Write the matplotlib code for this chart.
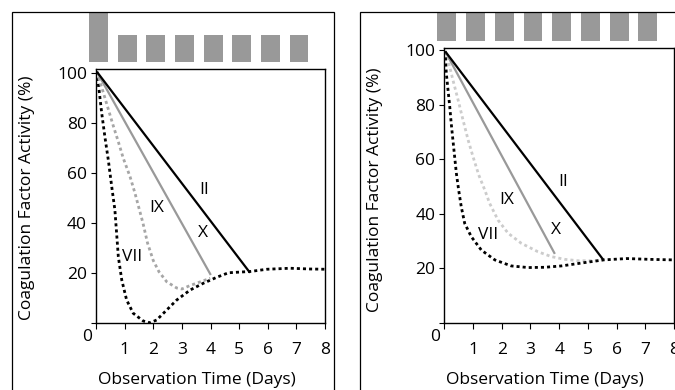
import matplotlib
matplotlib.use("Agg")
import matplotlib.pyplot as plt
from matplotlib.patches import Rectangle

plt.rcParams['font.family'] = ['Open Sans', 'DejaVu Sans']

# dose bars (relative dose amount per day)
dose_days = [0, 1, 2, 3, 4, 5, 6, 7]
dose_left = [1.8, 1, 1, 1, 1, 1, 1, 1]
dose_right = [1, 1, 1, 1, 1, 1, 1, 1]

# left panel: loading dose
L_II_x = [0.03, 5.38]
L_II_y = [100.5, 20.1]
L_X_x = [0.03, 4.01]
L_X_y = [100.5, 19.2]
L_IX_x = [0.03, 0.26, 0.43, 0.6, 0.78, 0.95, 1.19, 1.36, 1.5, 1.64, 1.8, 2.0, 2.2, 2.47, 2.82, 3.0, 3.29, 3.75, 3.99]
L_IX_y = [100.5, 92.0, 85.5, 79.0, 72.5, 66.0, 58.5, 52.0, 46.0, 40.0, 32.0, 25.0, 20.5, 16.5, 14.0, 13.6, 15.0, 16.9, 17.9]
L_VII_x = [0.03, 0.12, 0.2, 0.31, 0.43, 0.55, 0.66, 0.72, 0.78, 0.9, 1.07, 1.3, 1.65, 1.89, 2.12, 2.47, 2.82,
           3.29, 3.75, 4.22, 4.63, 5.38, 5.97, 6.78, 7.48, 8.0]
L_VII_y = [100.5, 91.9, 83.9, 74.5, 65.2, 54.5, 45.2, 35.9, 26.5, 17.2, 9.2, 3.9, 0.8, 0.1, 1.2, 5.2, 9.2,
           13.2, 15.9, 18.3, 20.1, 20.6, 21.5, 21.9, 21.6, 21.5]

# right panel: no loading dose
R_II_x = [0.03, 5.54]
R_II_y = [99.5, 23.1]
R_X_x = [0.03, 3.85]
R_X_y = [99.5, 25.3]
R_IX_x = [0.03, 0.13, 0.3, 0.48, 0.65, 0.83, 1.0, 1.2, 1.41, 1.58, 1.87, 2.22, 2.68, 3.26, 3.73, 4.2, 4.66, 5.31, 5.54]
R_IX_y = [99.5, 96.3, 89.0, 81.7, 74.4, 67.0, 60.9, 54.2, 48.7, 43.8, 37.7, 32.9, 29.2, 26.1, 24.3, 23.3, 22.8, 22.8, 23.1]
R_VII_x = [0.03, 0.07, 0.13, 0.19, 0.24, 0.3, 0.36, 0.42, 0.5, 0.59, 0.71, 0.94, 1.29, 1.76, 2.33, 2.92, 3.5,
           4.08, 4.54, 5.54, 6.36, 7.17, 8.0]
R_VII_y = [99.5, 91.5, 85.3, 79.2, 73.2, 67.0, 60.9, 54.8, 48.7, 42.6, 36.5, 31.6, 26.7, 23.1, 20.9, 20.3, 20.4,
           20.9, 21.6, 23.1, 23.6, 23.3, 23.1]

W, H = 675, 390
FS = 12.5
fig = plt.figure(figsize=(W / 100, H / 100), dpi=100)


def fx(px):
    return px / W


def fy(py):
    return 1 - py / H


def panel(x0, x1, ytop, ymax, bar_top, bar_bot, bar_max, doses, curves, labels, label_xy, zero_xy, ylab_x, ylab_y):
    ax = fig.add_axes([fx(x0), fy(323), fx(x1) - fx(x0), fy(ytop) - fy(323)])
    ax.set_xlim(0, 8)
    ax.set_ylim(0, ymax)
    for s in ax.spines.values():
        s.set_linewidth(1.0)
    ax.set_xticks(range(9))
    ax.set_xticklabels([''] + [str(i) for i in range(1, 9)], fontsize=FS)
    ax.set_yticks([0, 20, 40, 60, 80, 100])
    ax.set_yticklabels(['', '20', '40', '60', '80', '100'], fontsize=FS)
    ax.tick_params(axis='x', direction='out', length=4, width=0.8, pad=10)
    ax.tick_params(axis='y', direction='out', length=3.5, width=0.8, pad=3)
    for (xs, ys, kw) in curves:
        ax.plot(xs, ys, solid_capstyle='butt', **kw)
    for txt, (tx, ty) in zip(labels, label_xy):
        ax.text(tx, ty, txt, fontsize=FS, ha='center', va='center')
    fig.text(fx(zero_xy[0]), fy(zero_xy[1]), '0', fontsize=FS, ha='center', va='center')
    fig.text(fx(ylab_x), fy(ylab_y), 'Coagulation Factor Activity (%)', fontsize=FS,
             rotation=90, ha='center', va='center')
    fig.text(fx((x0 + x1) / 2 - 14), fy(380), 'Observation Time (Days)', fontsize=FS, ha='center', va='center')

    bx = fig.add_axes([fx(x0), fy(bar_bot), fx(x1) - fx(x0), fy(bar_top) - fy(bar_bot)])
    bx.set_xlim(0, 8)
    bx.set_ylim(0, bar_max)
    bx.bar([d + 0.09 for d in dose_days], doses, width=0.66, color='#999999', clip_on=False)
    bx.axis('off')
    return ax


dot = (0, (1.1, 1.1))
left_curves = [
    (L_VII_x, L_VII_y, dict(color='black', lw=2.0, ls=dot)),
    (L_IX_x, L_IX_y, dict(color='#a6a6a6', lw=2.0, ls=dot)),
    (L_X_x, L_X_y, dict(color='#999999', lw=1.6)),
    (L_II_x, L_II_y, dict(color='black', lw=1.6)),
]
right_curves = [
    (R_IX_x, R_IX_y, dict(color='#cccccc', lw=2.0, ls=dot)),
    (R_VII_x, R_VII_y, dict(color='black', lw=2.0, ls=dot)),
    (R_X_x, R_X_y, dict(color='#999999', lw=1.6)),
    (R_II_x, R_II_y, dict(color='black', lw=1.6)),
]

panel(96, 325, 69, 101.6, 13, 62, 1.8, dose_left, left_curves,
      ['II', 'IX', 'X', 'VII'], [(3.78, 53), (2.12, 46), (3.75, 36), (1.25, 26.5)],
      (87, 337), 27, 198)
panel(444.3, 674, 48, 100.7, 13, 41, 1.0, dose_right, right_curves,
      ['II', 'IX', 'X', 'VII'], [(4.15, 51.8), (2.17, 45), (3.88, 34), (1.53, 32.2)],
      (435, 337), 375, 190)

# outer frames
for (a, b) in [(12, 334), (360, 676)]:
    fig.add_artist(Rectangle((fx(a), -0.1), fx(b) - fx(a), fy(12) + 0.1, transform=fig.transFigure,
                             fill=False, edgecolor='black', lw=0.9, clip_on=False))

fig.savefig('out.png', dpi=100)
